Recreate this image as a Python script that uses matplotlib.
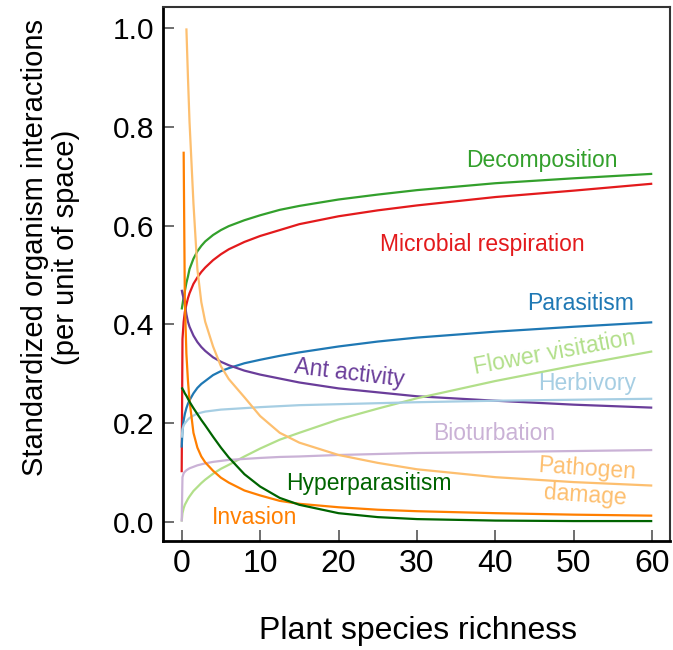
import numpy as np
import matplotlib
matplotlib.use("Agg")
import matplotlib.pyplot as plt

nan = np.nan

richness = [0, 0.1, 0.25, 0.4, 0.6, 0.8, 1, 1.5, 2, 2.5, 3, 4, 5, 6, 8, 10,
            12.5, 15, 20, 25, 30, 40, 50, 60]

decomposition = [0.43, 0.44, 0.455, 0.467, 0.484, 0.497, 0.512, 0.533, 0.548, 0.559,
                 0.568, 0.581, 0.591, 0.599, 0.611, 0.621, 0.632, 0.640, 0.653, 0.663,
                 0.672, 0.686, 0.696, 0.705]
microbial_respiration = [0.10, 0.37, 0.405, 0.425, 0.440, 0.453, 0.463, 0.482, 0.495, 0.506,
                         0.515, 0.530, 0.542, 0.552, 0.567, 0.579, 0.591, 0.603, 0.619, 0.631,
                         0.641, 0.658, 0.671, 0.685]
parasitism = [0.15, 0.186, 0.205, 0.218, 0.230, 0.239, 0.246, 0.260, 0.271, 0.279,
              0.285, 0.297, 0.305, 0.311, 0.321, 0.328, 0.336, 0.343, 0.355, 0.365,
              0.373, 0.385, 0.395, 0.404]
ant_activity = [0.47, 0.462, 0.452, 0.441, 0.420, 0.405, 0.395, 0.377, 0.364, 0.354,
                0.346, 0.333, 0.324, 0.317, 0.306, 0.298, 0.290, 0.282, 0.270, 0.262,
                0.254, 0.245, 0.237, 0.231]
flower_visitation = [0.0, 0.017, 0.027, 0.034, 0.040, 0.046, 0.051, 0.062, 0.070, 0.078,
                     0.085, 0.097, 0.107, 0.115, 0.132, 0.148, 0.166, 0.180, 0.207, 0.229,
                     0.250, 0.285, 0.316, 0.345]
herbivory = [0.17, 0.187, 0.195, 0.199, 0.203, 0.207, 0.210, 0.215, 0.219, 0.221,
             0.223, 0.225, 0.227, 0.228, 0.230, 0.232, 0.234, 0.236, 0.238, 0.240,
             0.242, 0.245, 0.247, 0.249]
bioturbation = [0.0, 0.090, 0.098, 0.101, 0.104, 0.106, 0.108, 0.111, 0.114, 0.116,
                0.118, 0.121, 0.123, 0.125, 0.127, 0.129, 0.131, 0.132, 0.135, 0.137,
                0.139, 0.141, 0.143, 0.145]
pathogen_damage = [nan, nan, nan, nan, 1.0, 0.90, 0.81, 0.645, 0.512, 0.445,
                   0.405, 0.355, 0.315, 0.289, 0.252, 0.214, 0.180, 0.160, 0.135, 0.119,
                   0.106, 0.090, 0.080, 0.073]
invasion = [nan, nan, 0.75, 0.45, 0.34, 0.285, 0.245, 0.180, 0.150, 0.132,
            0.120, 0.103, 0.089, 0.079, 0.063, 0.053, 0.042, 0.036, 0.029, 0.024,
            0.021, 0.017, 0.014, 0.012]
hyperparasitism = [0.272, 0.269, 0.265, 0.260, 0.255, 0.249, 0.243, 0.230, 0.218, 0.206,
                   0.195, 0.172, 0.150, 0.130, 0.096, 0.071, 0.048, 0.034, 0.017, 0.009,
                   0.005, 0.002, 0.001, 0.001]

series = [
    ("Decomposition", decomposition, "#33a02c"),
    ("Microbial respiration", microbial_respiration, "#e31a1c"),
    ("Parasitism", parasitism, "#1f78b4"),
    ("Ant activity", ant_activity, "#6a3d9a"),
    ("Flower visitation", flower_visitation, "#b2df8a"),
    ("Herbivory", herbivory, "#a6cee3"),
    ("Bioturbation", bioturbation, "#cab2d6"),
    ("Pathogen\ndamage", pathogen_damage, "#fdbf6f"),
    ("Invasion", invasion, "#ff7f00"),
    ("Hyperparasitism", hyperparasitism, "#006400"),
]

# label placement (x, y, rotation)
label_pos = {
    "Decomposition": (45.9, 0.733, 0),
    "Microbial respiration": (38.3, 0.562, 0),
    "Parasitism": (50.8, 0.442, 0),
    "Ant activity": (21.4, 0.301, -7),
    "Flower visitation": (47.5, 0.342, 10.5),
    "Herbivory": (51.7, 0.279, 0),
    "Bioturbation": (39.9, 0.179, 0),
    "Pathogen\ndamage": (51.6, 0.080, -4),
    "Invasion": (9.3, 0.008, 0),
    "Hyperparasitism": (23.9, 0.077, 0),
}

plt.rcParams["font.family"] = ["Liberation Sans", "DejaVu Sans"]

fig = plt.figure(figsize=(6.73, 6.5), dpi=100)
ax = fig.add_axes([0.242, 0.168, 0.754, 0.821])

for name, values, color in series:
    ax.plot(richness, values, color=color, linewidth=1.6, solid_capstyle="butt")
    lx, ly, rot = label_pos[name]
    ax.text(lx, ly, name, color=color, fontsize=16.5, ha="center", va="center",
            rotation=rot, linespacing=1.2)

ax.set_xlim(-2.4, 62.3)
ax.set_ylim(-0.039, 1.043)
ax.set_xticks([0, 10, 20, 30, 40, 50, 60])
ax.set_yticks([0.0, 0.2, 0.4, 0.6, 0.8, 1.0])
ax.set_yticklabels(["0.0", "0.2", "0.4", "0.6", "0.8", "1.0"])
ax.tick_params(direction="in", length=8, width=1.2, color="#555555", pad=6)
ax.tick_params(axis="y", labelsize=21.5)
ax.tick_params(axis="x", labelsize=23)

for side in ["left", "bottom"]:
    ax.spines[side].set_linewidth(2)
for side in ["top", "right"]:
    ax.spines[side].set_linewidth(1.5)
    ax.spines[side].set_color("#333333")

ax.set_xlabel("Plant species richness", fontsize=23)
ax.xaxis.set_label_coords(0.503, -0.141)
ax.set_ylabel("Standardized organism interactions\n(per unit of space)", fontsize=21,
              linespacing=1.1)
ax.yaxis.set_label_coords(-0.164, 0.55)

fig.savefig("out.png", dpi=100)
